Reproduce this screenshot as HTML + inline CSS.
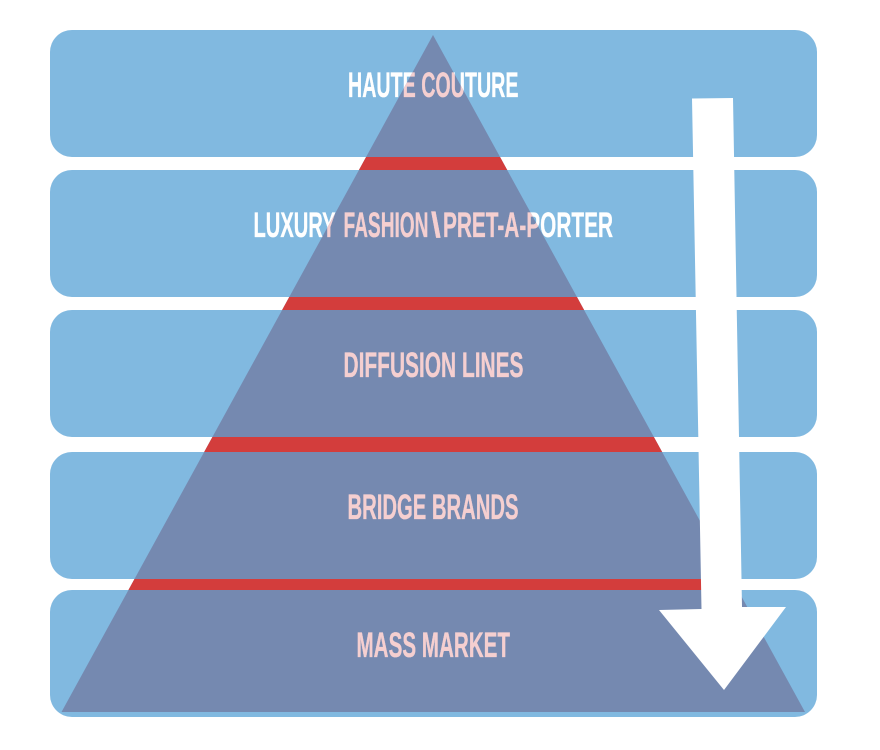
<!DOCTYPE html>
<html>
<head>
<meta charset="utf-8">
<style>
html,body{margin:0;padding:0;background:#fff;width:880px;height:750px;overflow:hidden}
svg{display:block}
text{font-family:"Liberation Sans Narrow","Liberation Sans",sans-serif;font-weight:700;font-size:35px;stroke-width:0.35px}
</style>
</head>
<body>
<svg width="880" height="750" viewBox="0 0 880 750" xmlns="http://www.w3.org/2000/svg">
<defs>
<clipPath id="tri"><polygon points="433,35 805,712 61.5,712"/></clipPath>
<clipPath id="out"><path clip-rule="evenodd" d="M0 0H880V750H0Z M433,35 L805,712 L61.5,712Z"/></clipPath>
</defs>
<g fill="#81B9E0">
<rect x="50" y="30" width="767" height="127" rx="22"/>
<rect x="50" y="170" width="767" height="127" rx="22"/>
<rect x="50" y="310" width="767" height="127" rx="22"/>
<rect x="50" y="452" width="767" height="127" rx="22"/>
<rect x="50" y="590" width="767" height="127" rx="22"/>
</g>
<polygon points="433,35 805,712 61.5,712" fill="#7589B0"/>
<g clip-path="url(#tri)" fill="#D33D3C">
<rect x="0" y="157" width="880" height="13"/>
<rect x="0" y="297" width="880" height="13"/>
<rect x="0" y="437" width="880" height="15"/>
<rect x="0" y="579" width="880" height="11"/>
</g>
<g clip-path="url(#out)" fill="#ffffff" stroke="#ffffff">
<text x="348" y="97" textLength="170.500" lengthAdjust="spacingAndGlyphs">HAUTE COUTURE</text>
<text x="253.500" y="237" textLength="82" lengthAdjust="spacingAndGlyphs">LUXURY</text>
<text x="343.500" y="237" textLength="85" lengthAdjust="spacingAndGlyphs">FASHION</text>
<text x="431" y="237">\</text>
<text x="443" y="237" textLength="170" lengthAdjust="spacingAndGlyphs">PRET-A-PORTER</text>
</g>
<g clip-path="url(#tri)" fill="#F5CFD0" stroke="#F5CFD0">
<text x="348" y="97" textLength="170.500" lengthAdjust="spacingAndGlyphs">HAUTE COUTURE</text>
<text x="253.500" y="237" textLength="82" lengthAdjust="spacingAndGlyphs">LUXURY</text>
<text x="343.500" y="237" textLength="85" lengthAdjust="spacingAndGlyphs">FASHION</text>
<text x="431" y="237">\</text>
<text x="443" y="237" textLength="170" lengthAdjust="spacingAndGlyphs">PRET-A-PORTER</text>
<text x="343.500" y="377" textLength="180" lengthAdjust="spacingAndGlyphs">DIFFUSION LINES</text>
<text x="347.500" y="519" textLength="171" lengthAdjust="spacingAndGlyphs">BRIDGE BRANDS</text>
<text x="356.500" y="657" textLength="153.500" lengthAdjust="spacingAndGlyphs">MASS MARKET</text>
</g>
<polygon points="692,98.500 733,98 742,607 786,607 724,690 659,610 701.500,609" fill="#ffffff"/>
</svg>
</body>
</html>
